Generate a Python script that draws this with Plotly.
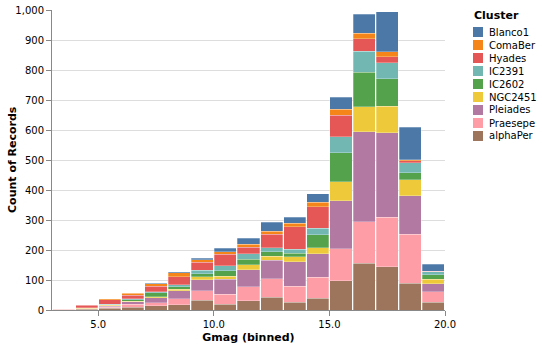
import plotly.graph_objects as go

# Gmag bins (width 1, labelled by bin start)
bin_start = list(range(3, 20))

# Record counts per cluster in each Gmag bin
alphaPer = [0, 3, 6, 9, 14, 17, 32, 20, 31, 43, 26, 39, 97, 156, 144, 89, 26]
Praesepe = [0, 1, 3, 11, 11, 20, 33, 33, 47, 62, 54, 70, 108, 139, 166, 163, 35]
Pleiades = [0, 1, 4, 8, 16, 27, 36, 49, 56, 61, 81, 78, 160, 300, 281, 129, 27]
NGC2451 = [0, 1, 3, 2, 3, 6, 10, 11, 17, 13, 17, 21, 63, 83, 89, 54, 14]
IC2602 = [0, 2, 2, 4, 13, 8, 10, 18, 19, 16, 11, 43, 96, 114, 91, 23, 15]
IC2391 = [0, 0, 1, 3, 4, 7, 12, 16, 17, 13, 14, 21, 54, 71, 54, 33, 10]
Hyades = [3, 8, 15, 12, 19, 26, 26, 39, 23, 45, 74, 72, 71, 41, 20, 7, 2]
ComaBer = [0, 2, 3, 7, 7, 13, 8, 9, 10, 9, 13, 16, 20, 19, 16, 3, 1]
Blanco1 = [0, 0, 0, 1, 3, 4, 6, 11, 20, 30, 19, 28, 41, 63, 133, 108, 23]

# Stack order: bottom to top
series = [
    ("alphaPer", alphaPer, "#9d755d"),
    ("Praesepe", Praesepe, "#ff9da6"),
    ("Pleiades", Pleiades, "#b279a2"),
    ("NGC2451", NGC2451, "#eeca3b"),
    ("IC2602", IC2602, "#54a24b"),
    ("IC2391", IC2391, "#72b7b2"),
    ("Hyades", Hyades, "#e45756"),
    ("ComaBer", ComaBer, "#f58518"),
    ("Blanco1", Blanco1, "#4c78a8"),
]

FONT = "DejaVu Sans"
W, H = 542, 347
ML, MR, MT, MB = 52, 97, 10, 37
centers = [b + 0.5 for b in bin_start]

fig = go.Figure()
for name, vals, color in series:
    fig.add_trace(go.Bar(
        x=centers, y=vals, name=name, width=0.955, showlegend=False,
        marker=dict(color=color, line=dict(width=0.6, color="rgba(255,255,255,0.45)")),
    ))

# Compact legend on the right: title, then swatch + label per cluster (top = Blanco1)
pw, ph = W - ML - MR, H - MT - MB
def px_x(x):
    return (x - ML) / pw
def px_y(y):
    return 1 - (y - MT) / ph

shapes, annotations = [], []
annotations.append(dict(
    text="<b>Cluster</b>", xref="paper", yref="paper", x=px_x(472), y=px_y(15),
    xanchor="left", yanchor="middle", showarrow=False,
    font=dict(family=FONT, size=11, color="#000"),
))
for i, (name, _, color) in enumerate(reversed(series)):
    cy = 32 + i * 13
    shapes.append(dict(
        type="rect", xref="paper", yref="paper",
        x0=px_x(473), x1=px_x(483), y0=px_y(cy - 5), y1=px_y(cy + 5),
        fillcolor=color, line=dict(width=0),
    ))
    annotations.append(dict(
        text=name, xref="paper", yref="paper", x=px_x(487), y=px_y(cy),
        xanchor="left", yanchor="middle", showarrow=False,
        font=dict(family=FONT, size=10, color="#000"),
    ))

# Y axis title
annotations.append(dict(
    text="<b>Count of Records</b>", xref="paper", yref="paper",
    x=px_x(12), y=px_y(160), xanchor="center", yanchor="middle",
    textangle=-90, showarrow=False,
    font=dict(family=FONT, size=11, color="#000"),
))

fig.update_layout(
    barmode="stack",
    width=W, height=H,
    margin=dict(l=ML, r=MR, t=MT, b=MB, autoexpand=False),
    plot_bgcolor="white", paper_bgcolor="white",
    font=dict(family=FONT, size=10, color="#000"),
    showlegend=False,
    shapes=shapes, annotations=annotations,
)
fig.update_xaxes(
    range=[3, 20], tickvals=[5, 10, 15, 20], tickformat=".1f",
    showgrid=False, showline=True, linecolor="#888", linewidth=1,
    ticks="outside", ticklen=5, tickcolor="#888",
    title=dict(text="<b>Gmag (binned)</b>", font=dict(size=11, family=FONT), standoff=4),
    zeroline=False,
)
fig.update_yaxes(
    range=[0, 1000], dtick=100, tickformat=",",
    showgrid=True, gridcolor="#ddd", gridwidth=1,
    showline=True, linecolor="#888", linewidth=1,
    ticks="outside", ticklen=5, tickcolor="#888",
    zeroline=False,
)

fig.write_html("out.html")
